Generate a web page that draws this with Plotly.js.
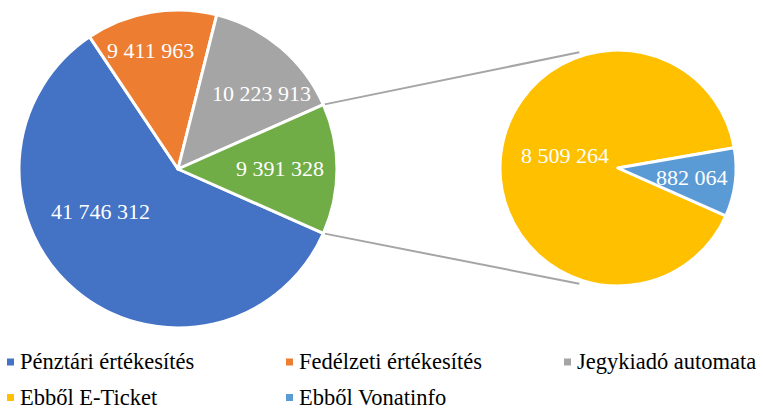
<!DOCTYPE html>
<html><head><meta charset="utf-8">
<script src="https://cdn.plot.ly/plotly-3.0.1.min.js"></script>
<style>
html,body{margin:0;padding:0;background:#fff}
#chart svg text{font-family:"Liberation Serif","DejaVu Serif",serif !important;}
</style>
</head><body><div id="chart" style="width:763px;height:409px"></div>
<script>
// ---- data ----
const mainLabels = ['Pénztári értékesítés','Fedélzeti értékesítés','Jegykiadó automata','Egyéb'];
const mainValues = [41746312, 9411963, 10223913, 9391328];
const mainColors = ['#4472C4','#ED7D31','#A5A5A5','#70AD47'];
const subLabels = ['Ebből E-Ticket','Ebből Vonatinfo'];
const subValues = [8509264, 882064];
const subColors = ['#FFC000','#5B9BD5'];
const legendLabels = ['Pénztári értékesítés','Fedélzeti értékesítés','Jegykiadó automata','Ebből E-Ticket','Ebből Vonatinfo'];
const legendColors = ['#4472C4','#ED7D31','#A5A5A5','#FFC000','#5B9BD5'];

// ---- geometry (pixels) ----
const W = 763, H = 409;
const FONT = 'Liberation Serif, DejaVu Serif, serif';
const Lp = {cx: 178, cy: 169, r: 159};
const Rp = {cx: 618, cy: 168, r: 118};
const px = x => x / W, py = y => 1 - y / H;
const dom = p => ({x: [px(p.cx - p.r), px(p.cx + p.r)], y: [py(p.cy + p.r), py(p.cy - p.r)]});
const fmt = v => String(v).replace(/\B(?=(\d{3})+(?!\d))/g, ' ');

const total = mainValues.reduce((a, b) => a + b, 0);
const halfGreen = mainValues[3] / total * 180; // degrees
const rotation = 90 + halfGreen;

const traces = [
  {type: 'pie', labels: mainLabels, values: mainValues, sort: false, direction: 'clockwise',
   rotation: rotation, domain: dom(Lp), textinfo: 'none', hoverinfo: 'label+value',
   marker: {colors: mainColors, line: {color: '#ffffff', width: 3}}, showlegend: false},
  {type: 'pie', labels: subLabels, values: subValues, sort: false, direction: 'clockwise',
   rotation: rotation, domain: dom(Rp), textinfo: 'none', hoverinfo: 'label+value',
   marker: {colors: subColors, line: {color: '#ffffff', width: 3}}, showlegend: false}
];

// value label positions (pixels)
const mainLabelPos = [[100, 212], [150, 51], [261, 93], [280, 168]];
const subLabelPos = [[565, 155], [692, 177]];
const annotations = [];
mainValues.forEach((v, i) => annotations.push({
  x: px(mainLabelPos[i][0]), y: py(mainLabelPos[i][1]), xref: 'paper', yref: 'paper',
  text: fmt(v), showarrow: false, xanchor: 'center', yanchor: 'middle',
  font: {family: FONT, size: 22, color: '#ffffff'}}));
subValues.forEach((v, i) => annotations.push({
  x: px(subLabelPos[i][0]), y: py(subLabelPos[i][1]), xref: 'paper', yref: 'paper',
  text: fmt(v), showarrow: false, xanchor: 'center', yanchor: 'middle',
  font: {family: FONT, size: 22, color: '#ffffff'}}));

// connector lines
const shapes = [];
const a = halfGreen * Math.PI / 180;
const b = 108.5 * Math.PI / 180;
[1, -1].forEach(s => {
  const x0 = Lp.cx + Lp.r * Math.cos(a), y0 = Lp.cy - s * Lp.r * Math.sin(a);
  const x1 = Rp.cx + (Rp.r + 4) * Math.cos(b), y1 = Rp.cy - s * (Rp.r + 4) * Math.sin(b);
  shapes.push({type: 'line', xref: 'paper', yref: 'paper', x0: px(x0), y0: py(y0), x1: px(x1), y1: py(y1),
    line: {color: '#A5A5A5', width: 2}, layer: 'below'});
});

// legend (manual)
const legX = [7, 286, 564, 7, 286];
const legY = [362, 362, 362, 397.5, 397.5];
legendLabels.forEach((t, i) => {
  shapes.push({type: 'rect', xref: 'paper', yref: 'paper',
    x0: px(legX[i]), x1: px(legX[i] + 7), y0: py(legY[i] + 3.5), y1: py(legY[i] - 3.5),
    fillcolor: legendColors[i], line: {width: 0}});
  annotations.push({x: px(legX[i] + 12), y: py(legY[i] - 0.5), xref: 'paper', yref: 'paper',
    text: t, showarrow: false, xanchor: 'left', yanchor: 'middle', borderpad: 0,
    font: {family: FONT, size: 22.5, color: '#000000'}});
});

const layout = {
  width: W, height: H, margin: {l: 0, r: 0, t: 0, b: 0},
  paper_bgcolor: '#ffffff', plot_bgcolor: '#ffffff', showlegend: false,
  annotations: annotations, shapes: shapes, font: {family: FONT}
};
Plotly.newPlot('chart', traces, layout, {displayModeBar: false, staticPlot: true});
</script></body></html>
